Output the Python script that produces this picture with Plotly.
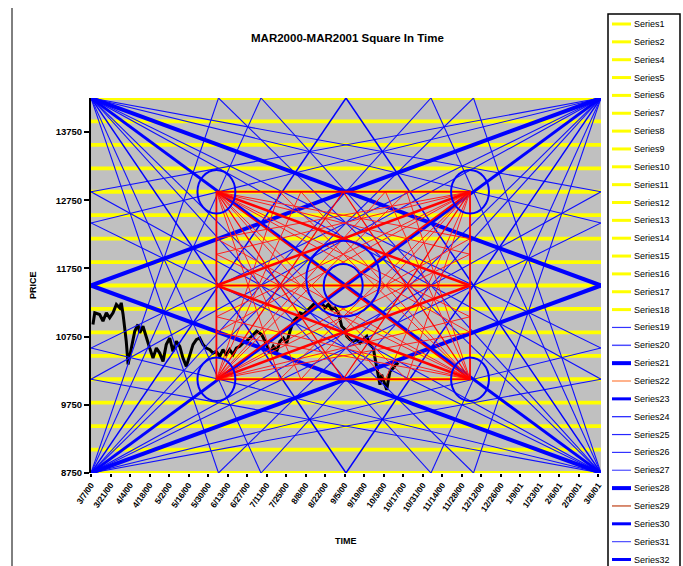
import plotly.graph_objects as go

# ---------------- data ----------------
TIME_START, TIME_END = 0, 366            # days from 3/7/00
PRICE_LOW, PRICE_HIGH = 8750, 14250
INNER_TIME = [90, 272]
INNER_PRICE = [10125, 12875]
FAN_FRACTIONS = [0.25, 1 / 3, 2 / 3, 0.75]
MID_FRACTION = 0.5

yellow_levels = [8750, 9093.75, 9437.5, 9781.25, 10125, 10468.75, 10812.5, 11156.25,
                 11500, 11843.75, 12187.5, 12531.25, 12875, 13218.75, 13562.5,
                 13906.25, 14250]

y_tick_values = [8750, 9750, 10750, 11750, 12750, 13750]
y_tick_labels = ["8750", "9750", "10750", "11750", "12750", "13750"]

x_tick_days = [0, 14, 28, 42, 56, 70, 84, 98, 112, 126, 140, 154, 168, 182, 196,
               210, 224, 238, 252, 266, 280, 294, 308, 322, 336, 350, 364]
x_tick_labels = ["3/7/00", "3/21/00", "4/4/00", "4/18/00", "5/2/00", "5/16/00",
                 "5/30/00", "6/13/00", "6/27/00", "7/11/00", "7/25/00", "8/8/00",
                 "8/22/00", "9/5/00", "9/19/00", "10/3/00", "10/17/00", "10/31/00",
                 "11/14/00", "11/28/00", "12/12/00", "12/26/00", "1/9/01", "1/23/01",
                 "2/6/01", "2/20/01", "3/6/01"]

price_days = [1.4, 2.7, 6.2, 8.6, 11.0, 13.4, 15.8, 18.2, 20.6, 21.7, 23.0, 25.3, 26.6,
              28.9, 31.4, 33.7, 35.0, 37.3, 39.7, 42.1, 44.5, 46.9, 49.3, 51.7, 54.0,
              56.5, 58.8, 61.2, 63.7, 66.0, 68.4, 70.8, 73.2, 75.6, 78.0, 80.4, 82.7,
              85.2, 87.6, 89.9, 92.4, 94.7, 97.1, 99.5, 101.9, 104.3, 106.7, 109.1,
              111.5, 115.3, 118.9, 122.5, 126.1, 128.5, 130.8, 133.3, 135.6, 138.0,
              140.4, 142.8, 145.2, 147.6, 150.0, 152.4, 154.8, 158.4, 160.8, 163.1,
              165.6, 167.9, 170.3, 172.7, 175.1, 177.5, 178.7, 179.9, 182.3, 183.5,
              185.9, 188.2, 190.7, 193.1, 195.4, 197.9, 200.2, 202.6, 203.8, 205.0,
              206.2, 207.4, 208.6, 209.8, 211.0, 212.2, 213.4, 214.6, 216.9, 219.4,
              220.5]
price_values = [10928, 11099, 11075, 10977, 11099, 11025, 11099, 11223, 11173, 11246,
                11080, 10682, 10343, 10583, 10829, 10928, 10804, 10903, 10730, 10583,
                10436, 10583, 10509, 10387, 10633, 10730, 10534, 10682, 10608, 10436,
                10313, 10486, 10633, 10707, 10730, 10633, 10583, 10559, 10509, 10534,
                10461, 10559, 10486, 10559, 10486, 10583, 10608, 10657, 10682, 10756,
                10829, 10780, 10633, 10509, 10608, 10534, 10682, 10730, 10657, 10829,
                10977, 11025, 11099, 11075, 11124, 11198, 11246, 11198, 11246, 11173,
                11223, 11149, 11173, 11099, 10977, 10903, 10854, 10755, 10707, 10682,
                10707, 10657, 10707, 10755, 10633, 10583, 10436, 10288, 10141, 10043,
                10191, 10117, 10043, 9969, 10117, 10239, 10288, 10362, 10338]

circle_center_days = [90, 272, 90, 272, 181, 181]
circle_center_prices = [12875, 12875, 10125, 10125, 11600, 11500]
circle_radius_days = [13.6, 13.6, 13.6, 13.6, 26.5, 14.0]
circle_radius_prices = [320, 320, 320, 320, 555, 315]

legend_names = ["Series1", "Series2", "Series4", "Series5", "Series6", "Series7",
                "Series8", "Series9", "Series10", "Series11", "Series12", "Series13",
                "Series14", "Series15", "Series16", "Series17", "Series18", "Series19",
                "Series20", "Series21", "Series22", "Series23", "Series24", "Series25",
                "Series26", "Series27", "Series28", "Series29", "Series30", "Series31",
                "Series32"]
legend_colors = ["#FFFF00"] * 17 + ["#3333FF", "#4D4DFF", "#0000FF", "#FF9966",
                                    "#0000FF", "#1A1AFF", "#2626FF", "#3333FF",
                                    "#4D4DFF", "#0000FF", "#CC6644", "#0000FF",
                                    "#4D4DFF", "#0000FF"]
legend_widths = [3] * 17 + [1.2, 1.5, 4, 1.5, 3, 1.2, 1.2, 1.2, 1.2, 4, 1.5, 3, 1.2, 3]


# ---------------- geometry helpers ----------------
def square_segments(t0, t1, p0, p1):
    """Corner fans of a square: corner -> mid of opposite vertical edge (bowtie),
    corner -> mid of opposite horizontal edge, fan fractions, diagonals."""
    corners = [(t0, p1, t1, p0), (t1, p1, t0, p0), (t0, p0, t1, p1), (t1, p0, t0, p1)]
    bowtie, vees, fans = [], [], []
    for ct, cp, ot, op in corners:
        vees.append(((ct, cp), (t0 + MID_FRACTION * (t1 - t0), op)))
        bowtie.append(((ct, cp), (ot, p0 + MID_FRACTION * (p1 - p0))))
        for f in FAN_FRACTIONS:
            fans.append(((ct, cp), (t0 + f * (t1 - t0), op)))
            fans.append(((ct, cp), (ot, p0 + f * (p1 - p0))))
    diags = [((t0, p1), (t1, p0)), ((t0, p0), (t1, p1))]
    return bowtie, vees, fans, diags


def seg_xy(segs):
    xs, ys = [], []
    for (a, b), (c, d) in segs:
        xs += [a, c, None]
        ys += [b, d, None]
    return xs, ys


def add_segs(fig, segs, color, width):
    x, y = seg_xy(segs)
    fig.add_trace(go.Scatter(x=x, y=y, mode="lines", line=dict(color=color, width=width),
                             showlegend=False, hoverinfo="skip"))


fig = go.Figure()

# yellow price levels
for i, lvl in enumerate(yellow_levels):
    fig.add_trace(go.Scatter(x=[TIME_START, TIME_END], y=[lvl, lvl], mode="lines",
                             line=dict(color="#FFFF00", width=3.8),
                             name=legend_names[i], showlegend=False, hoverinfo="skip"))

# price
fig.add_trace(go.Scatter(x=price_days, y=price_values, mode="lines",
                         line=dict(color="#000000", width=3), name="Series3",
                         showlegend=False))

# outer square (blue)
o_bow, o_vee, o_fan, o_diag = square_segments(TIME_START, TIME_END, PRICE_LOW, PRICE_HIGH)
add_segs(fig, o_fan, "#1010FF", 1.1)
add_segs(fig, o_vee, "#0000FF", 1.5)
add_segs(fig, o_diag, "#0000FF", 3)
add_segs(fig, o_bow, "#0000FF", 4)

# inner square (red)
t0, t1 = INNER_TIME
p0, p1 = INNER_PRICE
i_bow, i_vee, i_fan, i_diag = square_segments(t0, t1, p0, p1)
add_segs(fig, i_fan, "#FF2020", 1)
add_segs(fig, i_vee, "#FF0000", 1.3)
add_segs(fig, i_diag, "#FF0000", 1.6)
add_segs(fig, i_bow, "#FF0000", 2.5)
fig.add_trace(go.Scatter(x=[t0, t1, t1, t0, t0, None, t0, t1],
                         y=[p1, p1, p0, p0, p1, None, (p0 + p1) / 2, (p0 + p1) / 2],
                         mode="lines", line=dict(color="#FF0000", width=1.8),
                         showlegend=False, hoverinfo="skip"))

# circles
for cx, cy, rx, ry in zip(circle_center_days, circle_center_prices,
                          circle_radius_days, circle_radius_prices):
    fig.add_shape(type="circle", xref="x", yref="y", x0=cx - rx, x1=cx + rx,
                  y0=cy - ry, y1=cy + ry, line=dict(color="#0000FF", width=2))

# ---------------- layout ----------------
W, H = 683, 566
ML, MR, MT, MB = 91, 82, 98, 93
PW, PH = W - ML - MR, H - MT - MB


def px(v):
    return (v - ML) / PW


def py(v):
    return (H - MB - v) / PH


FONT = "Liberation Sans, Arial, sans-serif"

fig.update_layout(
    width=W, height=H,
    margin=dict(l=ML, r=MR, t=MT, b=MB, autoexpand=False),
    paper_bgcolor="white", plot_bgcolor="#C0C0C0",
    showlegend=False,
    xaxis=dict(range=[TIME_START, TIME_END], tickmode="array", tickvals=x_tick_days,
               ticktext=x_tick_labels, tickangle=-55, ticks="outside", ticklen=3,
               tickwidth=1.5, tickcolor="black", showgrid=False, zeroline=False,
               showline=False, automargin=False,
               tickfont=dict(family=FONT, size=8.5, color="black", weight="bold")),
    yaxis=dict(range=[PRICE_LOW, PRICE_HIGH], tickmode="array", tickvals=y_tick_values,
               ticktext=y_tick_labels, ticks="outside", ticklen=5, tickwidth=1.5,
               tickcolor="black", showgrid=False, zeroline=False, showline=True,
               linecolor="black", linewidth=2, automargin=False,
               tickfont=dict(family=FONT, size=9.5, color="black", weight="bold")),
)

annotations = [
    dict(text="MAR2000-MAR2001 Square In Time", x=px(347), y=py(38), xref="paper",
         yref="paper", showarrow=False, xanchor="center", yanchor="middle",
         font=dict(family=FONT, size=11.5, color="black", weight="bold")),
    dict(text="TIME", x=px(346), y=py(541), xref="paper", yref="paper", showarrow=False,
         xanchor="center", yanchor="middle",
         font=dict(family=FONT, size=9, color="black", weight="bold")),
    dict(text="PRICE", x=px(33), y=py(285), xref="paper", yref="paper", showarrow=False,
         xanchor="center", yanchor="middle", textangle=-90,
         font=dict(family=FONT, size=9, color="black", weight="bold")),
]

shapes = [
    dict(type="line", xref="paper", yref="paper", x0=px(12), x1=px(12), y0=py(8),
         y1=py(580), line=dict(color="black", width=1)),
    dict(type="rect", xref="paper", yref="paper", x0=px(608), x1=px(680), y0=py(14),
         y1=py(620), line=dict(color="black", width=1.5), fillcolor="rgba(0,0,0,0)"),
]

for i, (nm, col, wd) in enumerate(zip(legend_names, legend_colors, legend_widths)):
    yc = 24 + i * 17.85
    shapes.append(dict(type="line", xref="paper", yref="paper", x0=px(612), x1=px(631),
                       y0=py(yc), y1=py(yc), line=dict(color=col, width=wd)))
    annotations.append(dict(text=nm, x=px(632), y=py(yc), xref="paper", yref="paper",
                            showarrow=False, xanchor="left", yanchor="middle",
                            font=dict(family=FONT, size=9, color="black")))

for s in shapes:
    fig.add_shape(**s)
fig.update_layout(annotations=annotations)

fig.write_html("out.html", config={"displayModeBar": False},
               post_script="document.body.style.margin='0px';"
                           "document.body.style.overflow='hidden';")
